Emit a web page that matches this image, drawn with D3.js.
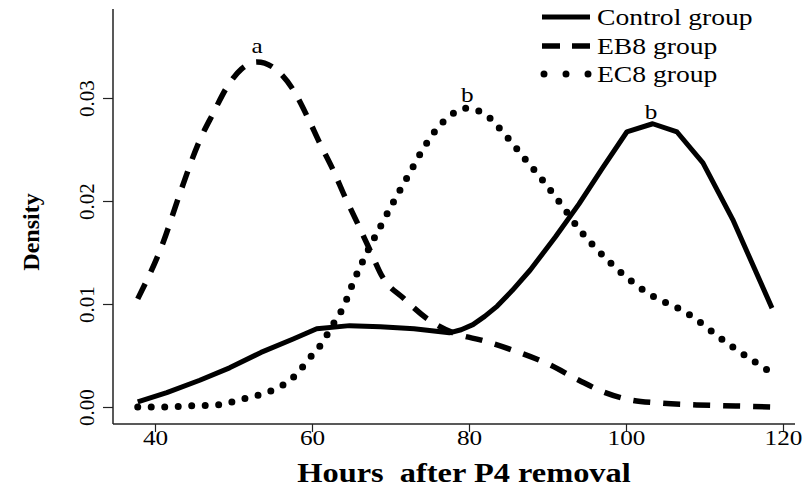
<!DOCTYPE html>
<html><head><meta charset="utf-8">
<script src="https://cdn.jsdelivr.net/npm/d3@7"></script>
<style>body{margin:0;background:#fff}svg{display:block}text{font-family:"Liberation Serif","Times New Roman",serif;fill:#000}</style>
</head><body><svg id="c" width="808" height="490"></svg>
<script>
const xTicks = [40, 60, 80, 100, 120];
const yTicks = [0, 0.01, 0.02, 0.03];
const yTickLabels = ["0.00", "0.01", "0.02", "0.03"];
const seriesNames = ["Control group", "EB8 group", "EC8 group"];

const controlHours = [37.8, 41.5, 45.7, 49.5, 53.5, 57.6, 60.6, 64.8, 68.7, 73.0, 77.5, 79.0, 80.5, 82.0, 83.6, 85.5, 87.8, 91.0, 94.0, 97.0, 100.1, 103.4, 106.5, 109.8, 113.6, 118.6];
const controlDensity = [0.0005, 0.0014, 0.0026, 0.0038, 0.0053, 0.0066, 0.0076, 0.0079, 0.0078, 0.0076, 0.0072, 0.0075, 0.0080, 0.0088, 0.0098, 0.0113, 0.0133, 0.0165, 0.0197, 0.0232, 0.0267, 0.0275, 0.0267, 0.0237, 0.0182, 0.0096];

const eb8Hours = [37.8, 41.0, 43.2, 45.7, 47.4, 49.2, 51.0, 53.0, 55.0, 57.6, 59.4, 61.0, 62.7, 64.2, 65.7, 67.4, 69.0, 71.6, 75.0, 78.0, 82.0, 86.0, 90.0, 94.0, 97.0, 100.5, 104.0, 109.0, 114.0, 118.6];
const eb8Density = [0.0105, 0.0159, 0.0208, 0.0259, 0.0285, 0.0311, 0.0328, 0.0335, 0.0330, 0.0308, 0.0282, 0.0256, 0.0230, 0.0204, 0.0180, 0.0152, 0.0126, 0.0106, 0.0084, 0.0072, 0.0064, 0.0054, 0.0042, 0.0026, 0.0015, 0.0007, 0.0004, 0.0002, 0.0001, 0.0000];

const ec8Hours = [37.8, 41.0, 44.0, 47.9, 50.8, 53.4, 55.5, 57.2, 58.5, 59.5, 60.8, 61.9, 62.9, 64.0, 65.2, 67.0, 68.7, 70.8, 72.5, 74.1, 75.9, 77.6, 79.5, 81.7, 84.3, 86.9, 89.4, 92.0, 93.8, 97.6, 102.7, 107.8, 112.9, 118.6];
const ec8Density = [0.0000, 0.0000, 0.0001, 0.0002, 0.0007, 0.0012, 0.0018, 0.0026, 0.0036, 0.0046, 0.0057, 0.0070, 0.0083, 0.0097, 0.0120, 0.0150, 0.0175, 0.0205, 0.0228, 0.0250, 0.0270, 0.0283, 0.0290, 0.0286, 0.0267, 0.0243, 0.0220, 0.0194, 0.0175, 0.0143, 0.0111, 0.0091, 0.0062, 0.0033];

const letters = ["a", "b", "b"];
const letterHours = [53.0, 79.8, 103.2];
const letterDensity = [0.0344, 0.0296, 0.0280];

const svg = d3.select("#c");
const x = d3.scaleLinear().domain([40, 120]).range([155, 783]);
const y = d3.scaleLinear().domain([0, 0.03]).range([407, 98]);
const SX = 1.2;
function stretch(sel){ sel.each(function(){ const w=this.getComputedTextLength(); d3.select(this).attr("textLength", w*SX).attr("lengthAdjust","spacingAndGlyphs"); }); }

// frame (L shape)
svg.append("line").attr("x1",113).attr("x2",113).attr("y1",9).attr("y2",424).attr("stroke","#222").attr("stroke-width",1.5);
svg.append("line").attr("x1",113).attr("x2",795).attr("y1",424).attr("y2",424).attr("stroke","#222").attr("stroke-width",1.5);

// x axis
const gx = svg.append("g").attr("transform","translate(0,424)")
  .call(d3.axisBottom(x).tickValues(xTicks).tickSize(8).tickSizeOuter(0).tickFormat(d3.format("d")));
gx.select(".domain").remove();
gx.selectAll(".tick line").attr("stroke","#222").attr("stroke-width",1.2);
gx.selectAll(".tick text").attr("font-size",21).attr("font-family","Liberation Serif").attr("dy",0).attr("y",21).call(stretch);

// y axis
const gy = svg.append("g").attr("transform","translate(113,0)")
  .call(d3.axisLeft(y).tickValues(yTicks).tickSize(10).tickSizeOuter(0).tickFormat((d,i)=>yTickLabels[i]));
gy.select(".domain").remove();
gy.selectAll(".tick line").attr("stroke","#222").attr("stroke-width",1.2);
gy.selectAll(".tick text").attr("font-size",21).attr("font-family","Liberation Serif")
  .attr("x",null).attr("dy",null).attr("text-anchor","middle").attr("transform","translate(-19,0) rotate(-90)");

// titles
svg.append("text").attr("x",464).attr("y",482).attr("text-anchor","middle").attr("font-size",27).attr("font-weight","bold").text("Hours\u00a0\u00a0after P4 removal").call(stretch);
svg.append("text").attr("transform","translate(39,232) rotate(-90)").attr("text-anchor","middle").attr("font-size",24).attr("font-weight","bold").text("Density");

const lineSmooth = d3.line().x(d=>x(d[0])).y(d=>y(d[1])).curve(d3.curveMonotoneX);
const lineStraight = d3.line().x(d=>x(d[0])).y(d=>y(d[1])).curve(d3.curveLinear);
const styles = [
  {w:5, dash:null, cap:"butt", gen:lineStraight},
  {w:5.5, dash:"17,13", cap:"butt", gen:lineSmooth},
  {w:7, dash:"0,13.5", cap:"round", gen:lineSmooth}
];
const series = [d3.zip(controlHours, controlDensity), d3.zip(eb8Hours, eb8Density), d3.zip(ec8Hours, ec8Density)];
series.forEach((s,i)=>{
  svg.append("path").datum(s).attr("d",styles[i].gen).attr("fill","none").attr("stroke","#000")
    .attr("stroke-width",styles[i].w).attr("stroke-dasharray",styles[i].dash).attr("stroke-linecap",styles[i].cap).attr("stroke-linejoin","round");
});

// letters
svg.selectAll("text.let").data(letters).join("text").attr("class","let")
  .attr("x",(d,i)=>x(letterHours[i])).attr("y",(d,i)=>y(letterDensity[i])).attr("text-anchor","middle").attr("font-size",21).text(d=>d).call(stretch);

// legend
const legY = [17, 46, 74];
const legDash = [null, "18,12", "0,22"];
seriesNames.forEach((n,i)=>{
  svg.append("line").attr("x1", i==2?544:542).attr("x2", i==2?589:590).attr("y1",legY[i]).attr("y2",legY[i])
    .attr("stroke","#000").attr("stroke-width",styles[i].w).attr("stroke-dasharray",legDash[i]).attr("stroke-linecap",styles[i].cap);
  svg.append("text").attr("x",597).attr("y",legY[i]+8).attr("font-size",23).text(n).call(stretch);
});
</script></body></html>
